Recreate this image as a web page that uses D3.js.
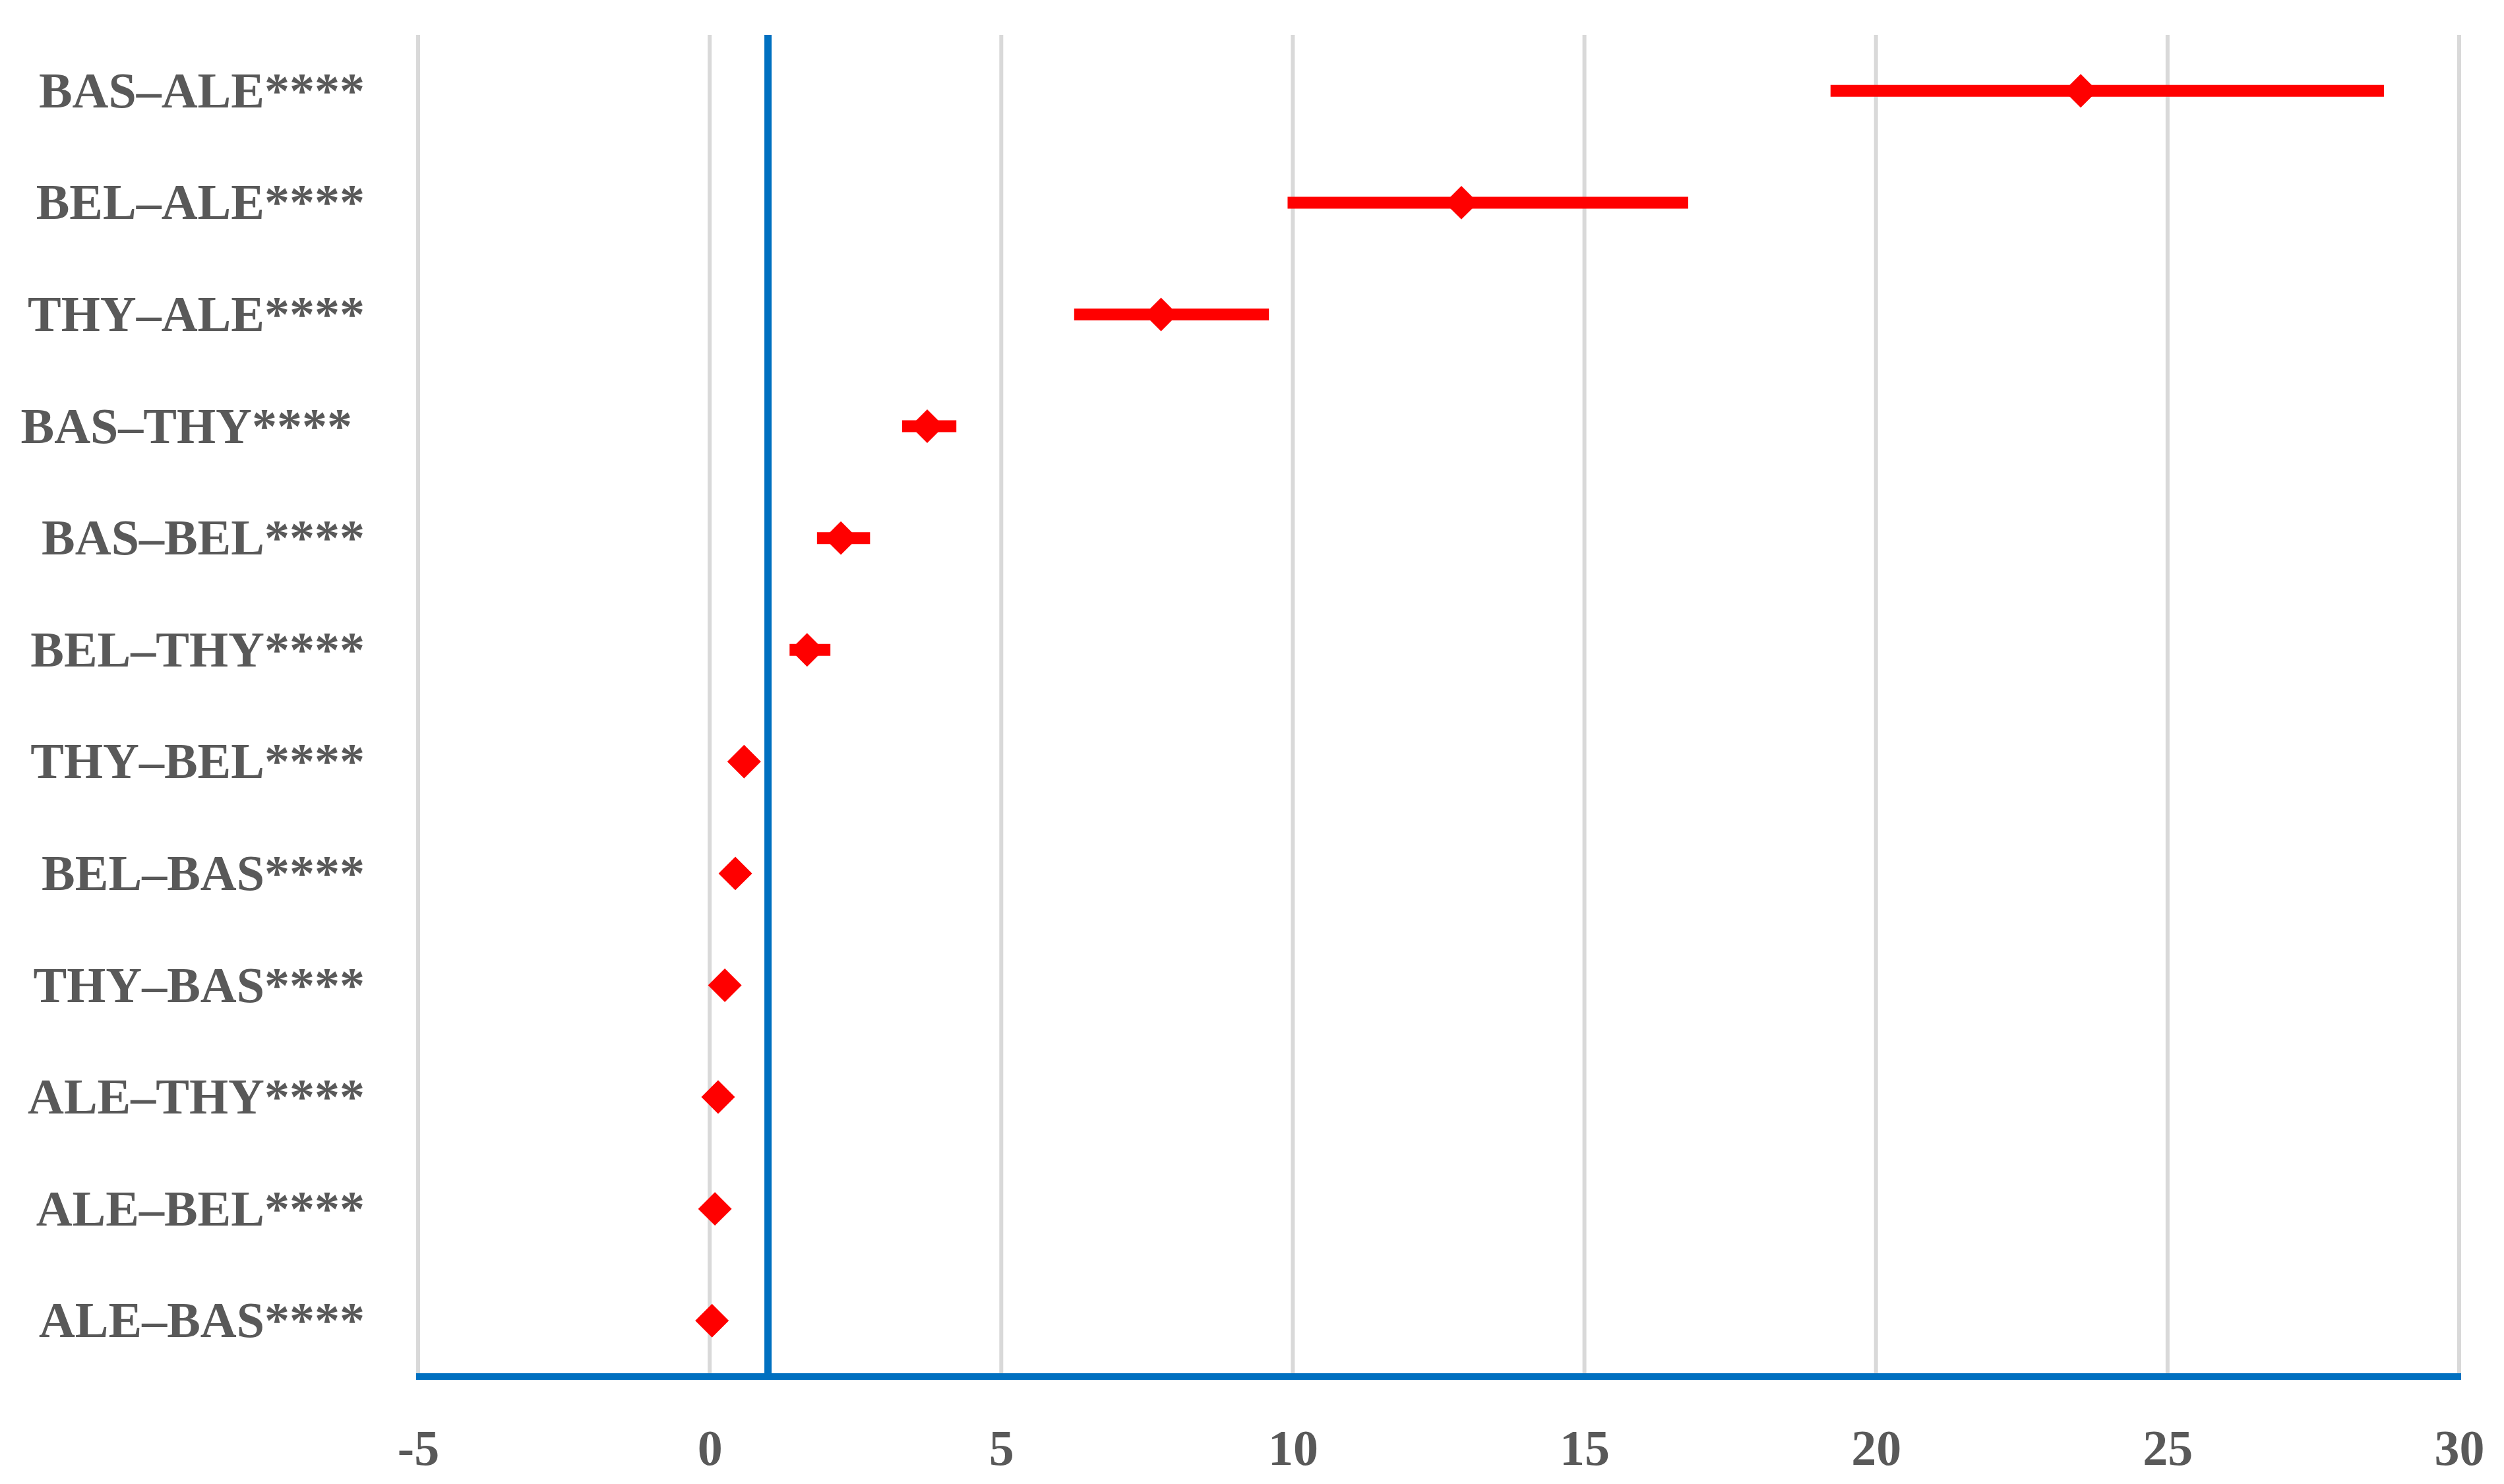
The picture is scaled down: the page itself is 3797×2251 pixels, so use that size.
<!DOCTYPE html>
<meta charset="utf-8">
<script src="https://d3js.org/d3.v7.min.js"></script>
<style>
	body {
		margin: 0;
		background: #fff;
	}
	.lbl text {
		font-family: "Liberation Serif", serif;
		font-weight: bold;
		font-size: 76px;
		fill: #595959;
		white-space: pre;
	}
</style>
<body>
	<div id="chart"></div>
</body>
<script>
	const width = 3797, height = 2251;
	const margin = {top: 53, right: 68, bottom: 163, left: 634};

	// pairwise comparisons, top to bottom
	const categories = ["BAS–ALE****", "BEL–ALE****", "THY–ALE****", "BAS–THY**** ",
		"BAS–BEL****", "BEL–THY****", "THY–BEL****", "BEL–BAS****",
		"THY–BAS****", "ALE–THY****", "ALE–BEL****", "ALE–BAS****"];
	const estimate = [23.51, 12.89, 7.74, 3.73, 2.25, 1.67, 0.59, 0.44, 0.26, 0.145, 0.09, 0.04];
	const lower    = [19.22,  9.91, 6.25, 3.30, 1.84, 1.37, 0.53, 0.40, 0.23, 0.12, 0.07, 0.03];
	const upper    = [28.71, 16.78, 9.59, 4.23, 2.75, 2.07, 0.65, 0.49, 0.30, 0.17, 0.11, 0.05];
	const xTicks = [-5, 0, 5, 10, 15, 20, 25, 30];
	const refValue = 1;

	const rows = categories.map(function(c, i) {
		return {name: c, est: estimate[i], lo: lower[i], hi: upper[i]};
	});

	const x = d3.scaleLinear()
		.domain([-5, 30])
		.range([margin.left, width - margin.right]);

	const y = d3.scaleBand()
		.domain(categories)
		.range([margin.top, height - margin.bottom]);

	const svg = d3.select("#chart").append("svg")
		.attr("width", width)
		.attr("height", height)
		.style("display", "block");

	const plotBottom = height - margin.bottom;

	// vertical gridlines
	svg.append("g")
		.selectAll("line")
		.data(xTicks)
		.enter().append("line")
		.attr("x1", d => x(d))
		.attr("x2", d => x(d))
		.attr("y1", margin.top)
		.attr("y2", plotBottom)
		.attr("stroke", "#d9d9d9")
		.attr("stroke-width", 6);

	// reference line at 1
	svg.append("line")
		.attr("x1", x(refValue))
		.attr("x2", x(refValue))
		.attr("y1", margin.top)
		.attr("y2", plotBottom)
		.attr("stroke", "#0070c0")
		.attr("stroke-width", 11);

	// x axis labels
	const xAxis = svg.append("g")
		.attr("class", "lbl")
		.attr("transform", "translate(0," + plotBottom + ")")
		.call(d3.axisBottom(x).tickValues(xTicks).tickSize(0).tickPadding(80)
			.tickFormat(d => String(d)));
	xAxis.select(".domain").remove();

	// blue bottom axis line
	svg.append("line")
		.attr("x1", x(-5) - 3)
		.attr("x2", x(30) + 3)
		.attr("y1", plotBottom)
		.attr("y2", plotBottom)
		.attr("stroke", "#0070c0")
		.attr("stroke-width", 10);

	// category labels
	const yAxis = svg.append("g")
		.attr("class", "lbl")
		.attr("transform", "translate(" + margin.left + ",0)")
		.call(d3.axisLeft(y).tickSize(0).tickPadding(81));
	yAxis.select(".domain").remove();
	yAxis.selectAll("text").attr("dy", "0.33em");

	// confidence intervals
	svg.append("g")
		.selectAll("line")
		.data(rows)
		.enter().append("line")
		.attr("x1", d => x(d.lo))
		.attr("x2", d => x(d.hi))
		.attr("y1", d => y(d.name) + y.bandwidth() / 2)
		.attr("y2", d => y(d.name) + y.bandwidth() / 2)
		.attr("stroke", "#ff0000")
		.attr("stroke-width", 18);

	// point estimates
	const diamond = d3.symbol().type(d3.symbolSquare).size(1300);
	svg.append("g")
		.selectAll("path")
		.data(rows)
		.enter().append("path")
		.attr("d", diamond)
		.attr("transform", d => "translate(" + x(d.est) + "," + (y(d.name) + y.bandwidth() / 2) + ") rotate(45)")
		.attr("fill", "#ff0000");
</script>
